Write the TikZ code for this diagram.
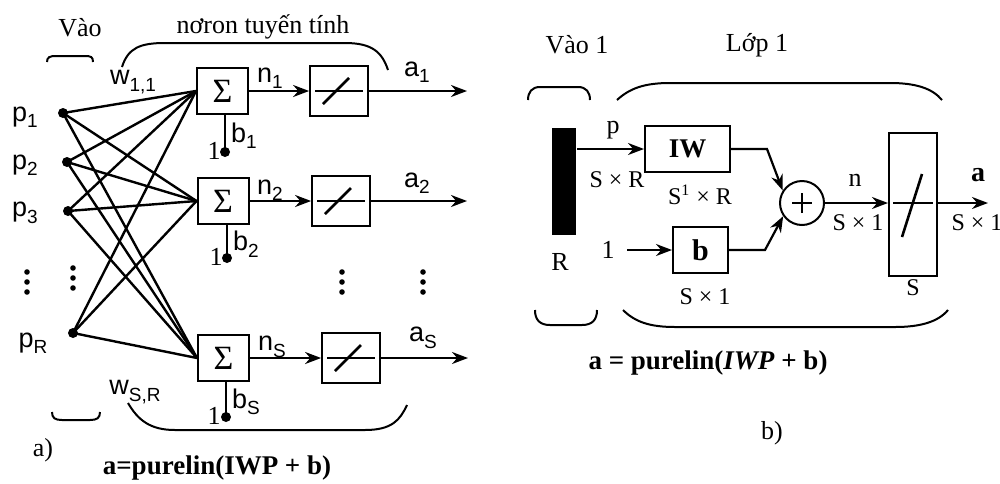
\documentclass[tikz,border=0pt]{standalone}
\usepackage{fontspec}
\setmainfont{Liberation Serif}
\setsansfont{Liberation Sans}
\usetikzlibrary{arrows.meta}
\newcommand\ssub[2]{#1\raisebox{-0.45ex}{\fontsize{9.5}{10}\selectfont #2}}
\begin{document}
\begin{tikzpicture}[x=0.5pt,y=-0.5pt,line width=1.1pt,
  serif/.style={font=\fontsize{13}{13}\selectfont, inner sep=0},
  lab/.style={font=\sffamily\fontsize{13.5}{13.5}\selectfont, inner sep=0},
  dims/.style={font=\fontsize{12}{12}\selectfont, inner sep=0},
  formula/.style={font=\bfseries\fontsize{13.5}{14}\selectfont, inner sep=0},
  sig/.style={draw, line width=1pt, minimum width=25.5pt, minimum height=23pt, inner sep=0, font=\fontsize{17}{17}\selectfont},
  fbx/.style={draw, line width=0.9pt, minimum width=29pt, minimum height=25pt, inner sep=0},
  bx/.style={draw, line width=1pt, inner sep=0},
  dot/.style={circle, fill, inner sep=0, minimum size=5pt},
  arr/.style={-{Stealth[length=8pt,width=6pt]}},
  brace/.style={line width=1pt}]
\useasboundingbox (0,0) rectangle (1000,483);

% ---------------- panel a ----------------
\node[serif] (vao) at (80,28) {Vào};
\node[serif] (nor) at (263,27) {nơron tuyến tính};

\draw[brace] (47,62) .. controls (47,57) and (50,56) .. (56,56) -- (85,56) .. controls (91,56) and (93,57) .. (93,62);
\draw[brace] (122,67) .. controls (128,48) and (140,43) .. (165,43) -- (345,43) .. controls (372,43) and (382,52) .. (388,70);
\draw[brace] (52,412) .. controls (52,418) and (55,420) .. (62,420) -- (90,420) .. controls (97,420) and (100,418) .. (100,412);
\draw[brace] (128,403) .. controls (138,420) and (150,430) .. (175,430) -- (365,430) .. controls (392,430) and (400,420) .. (407,405);

\node[sig] (s1) at (222.5,91) {Σ};
\node[sig] (s2) at (223,201) {Σ};
\node[sig] (s3) at (223.5,358) {Σ};
\node[fbx] (f1) at (339,91) {};
\node[fbx] (f2) at (341,201) {};
\node[fbx] (f3) at (351,358) {};
\foreach \f in {f1,f2,f3} {
  \draw[line width=1pt] ([xshift=-12pt]\f.center) -- ([xshift=12pt]\f.center);
  \draw[line width=1.3pt] ([shift={(-8pt,-6.5pt)}]\f.center) -- ([shift={(5pt,6.5pt)}]\f.center);
}

\node[dot] (p1) at (63,113) {};
\node[dot] (p2) at (67,162) {};
\node[dot] (p3) at (68,211) {};
\node[dot] (pR) at (73,333) {};
\node[lab] (lp1) at (25,117) {\ssub{p}{1}};
\node[lab] (lp2) at (25,165) {\ssub{p}{2}};
\node[lab] (lp3) at (25,213) {\ssub{p}{3}};
\node[lab] (lpR) at (33,343) {\ssub{p}{R}};

\foreach \p in {p1,p2,p3,pR}
  \foreach \s in {s1,s2,s3}
    \draw[line width=1.2pt] (\p.center) -- (\s.west);

\foreach \x/\y in {27/272,73/268,342/272,423/272}{
  \foreach \k in {0,10,20} \fill (\x,\y+\k) circle (1.4pt);
}

\coordinate (o1) at (467,91);
\coordinate (o2) at (467,201);
\coordinate (o3) at (468,358);
\draw[arr] (s1.east) -- (f1.west);
\draw[arr] (s2.east) -- (f2.west);
\draw[arr] (s3.east) -- (f3.west);
\draw[arr] (f1.east) -- (o1);
\draw[arr] (f2.east) -- (o2);
\draw[arr] (f3.east) -- (o3);

\node[lab] (n1) at (270,78) {\ssub{n}{1}};
\node[lab] (n2) at (270,190) {\ssub{n}{2}};
\node[lab] (nS) at (272,347) {\ssub{n}{S}};
\node[lab] (a1) at (417,72) {\ssub{a}{1}};
\node[lab] (a2) at (417,183) {\ssub{a}{2}};
\node[lab] (aS) at (423,338) {\ssub{a}{S}};
\node[lab] (w11) at (133,82) {\ssub{w}{1,1}};
\node[lab] (wSR) at (135,392) {\ssub{w}{S,R}};

\node[dot] (d1) at (225,152) {};
\node[dot] (d2) at (227,258) {};
\node[dot] (d3) at (226,417) {};
\draw (d1.center) -- (d1 |- s1.south);
\draw (d2.center) -- (d2 |- s2.south);
\draw (d3.center) -- (d3 |- s3.south);
\node[serif] (u1) at (214,151) {1};
\node[serif] (u2) at (216,257) {1};
\node[serif] (u3) at (214,416) {1};
\node[lab] (b1) at (244,136) {\ssub{b}{1}};
\node[lab] (b2) at (246,244) {\ssub{b}{2}};
\node[lab] (bS) at (246,402) {\ssub{b}{S}};

\node[serif] (la) at (43,450) {a)};
\node[formula] (fa) at (217,468) {a=purelin(IWP + b)};

% ---------------- panel b ----------------
\node[serif] (vao1) at (577,45) {Vào 1};
\node[serif] (lop1) at (757,45) {Lớp 1};
\draw[brace] (528,100) .. controls (528,92) and (532,87) .. (540,87) -- (578,87) .. controls (586,87) and (590,92) .. (590,100);
\draw[brace] (617,100) .. controls (630,88) and (645,83) .. (670,83) -- (890,83) .. controls (915,83) and (932,88) .. (942,100);
\draw[brace] (535,310) .. controls (535,320) and (540,325) .. (550,325) -- (582,325) .. controls (592,325) and (597,320) .. (597,310);
\draw[brace] (623,310) .. controls (635,322) and (650,327) .. (675,327) -- (895,327) .. controls (920,327) and (938,322) .. (948,310);

\node[fill, minimum width=12pt, minimum height=53.5pt, inner sep=0] (bar) at (564,181.5) {};
\node[serif] (R) at (560,262) {R};
\node[serif] (pp) at (613,130) {p};
\node[dims] (sxr) at (617,180) {S × R};

\node[bx, minimum width=42.5pt, minimum height=23pt, font=\bfseries\fontsize{13.5}{13.5}\selectfont] (IW) at (687.5,149) {IW};
\node[dims] (s1xr) at (700,195) {S\textsuperscript{1} × R};
\node[bx, minimum width=27.5pt, minimum height=23pt, font=\bfseries\fontsize{15}{15}\selectfont] (bb) at (700.5,250) {b};
\node[dims] (sx1b) at (705,297) {S × 1};
\node[serif] (one) at (608,250) {1};
\coordinate (onea) at (627,250);

\node[circle, draw, line width=1pt, minimum size=22pt, inner sep=0] (sum) at (802,203) {};
\draw[line width=1.4pt] ([xshift=-5pt]sum.center) -- ([xshift=5pt]sum.center);
\draw[line width=1.4pt] ([yshift=-5pt]sum.center) -- ([yshift=5pt]sum.center);
\node[bx, minimum width=24pt, minimum height=71.5pt] (Sb) at (913,204.5) {};
\draw[line width=1pt] ([xshift=-10pt]Sb.center |- sum.east) -- ([xshift=10pt]Sb.center |- sum.east);
\draw[line width=1.3pt] ([shift={(-5.5pt,-16.25pt)}]Sb.center) -- ([shift={(4.5pt,15.25pt)}]Sb.center);

\coordinate (k1) at (767,149);
\coordinate (k2) at (765,250);
\coordinate (aout) at (988,203);
\draw[arr] (bar.east |- IW.west) -- (IW.west);
\draw[arr] (IW.east) -- (k1) -- (sum.147);
\draw[arr] (bb.east) -- (k2) -- (sum.215);
\draw[arr] (onea) -- (bb.west);
\draw[arr] (sum.east) -- (sum.east -| Sb.west);
\draw[arr] (sum.east -| Sb.east) -- (aout);

\node[serif] (nn) at (855,180) {n};
\node[dims] (sx1n) at (858,223) {S × 1};
\node[serif, font=\bfseries\fontsize{14}{14}\selectfont] (aa) at (978,175) {a};
\node[dims] (sx1a) at (977,223) {S × 1};
\node[dims] (SS) at (913,288) {S};

\node[formula] (fb) at (708,363) {a = purelin(\textit{IWP} + b)};
\node[serif] (lb) at (772,433) {b)};
\end{tikzpicture}
\end{document}
